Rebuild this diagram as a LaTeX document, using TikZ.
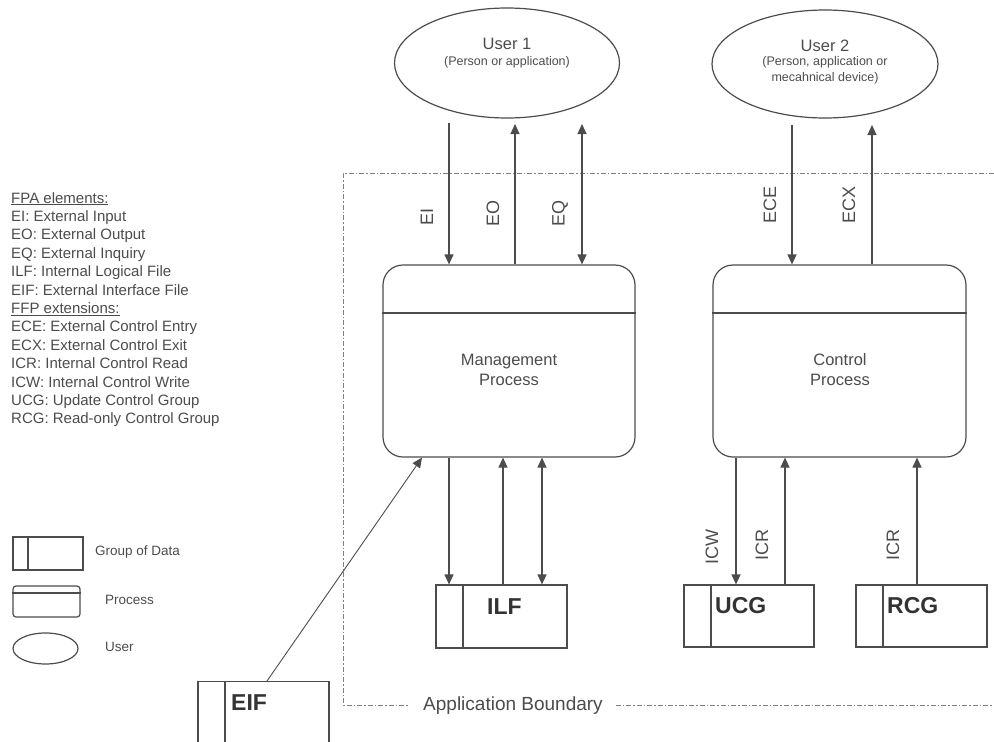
\documentclass[tikz,border=0pt]{standalone}
\usepackage{fontspec}
\setmainfont{Liberation Sans}
\usetikzlibrary{arrows.meta,shapes.geometric}
\definecolor{lc}{gray}{0.3}
\definecolor{tc}{gray}{0.3}
\begin{document}
\begin{tikzpicture}[x=1pt,y=1pt,
  lw/.style={line width=1.2pt},
  arr/.style={draw=lc,lw,-{Triangle[length=10pt,width=9pt]}},
  darr/.style={draw=lc,lw,{Triangle[length=10pt,width=9pt]}-{Triangle[length=10pt,width=9pt]}},
  user/.style={ellipse,draw=lc,lw,inner sep=0pt},
  proc/.style={rectangle,draw=lc,lw,rounded corners=20pt,minimum width=252pt,minimum height=192pt,inner sep=0pt},
  grp/.style={rectangle,draw=lc,lw,minimum width=131pt,minimum height=63pt,inner sep=0pt},
  flab/.style={text=tc,font=\fontsize{18}{18}\selectfont,rotate=90,inner sep=0pt},
  ptxt/.style={text=tc,font=\fontsize{16.5}{20}\selectfont,align=center,inner sep=0pt},
  gtxt/.style={text=black!80,font=\bfseries\fontsize{23}{23}\selectfont,anchor=west,inner sep=0pt},
  ltxt/.style={text=tc,font=\fontsize{13.5}{14}\selectfont,anchor=west,inner sep=0pt},
  bnd/.style={draw=gray,line width=1pt,dash pattern=on 5pt off 2pt on 1.5pt off 2pt}]
\useasboundingbox (0,0) rectangle (994,-742);

% users
\node[user,minimum width=225pt,minimum height=110pt] (u1) at (507,-63) {};
\node[text=tc,font=\fontsize{16.5}{16}\selectfont,inner sep=0pt] (u1t) at (507,-44) {User 1};
\node[text=tc,font=\fontsize{12.5}{13}\selectfont,inner sep=0pt] (u1s) at (507,-62) {(Person or application)};
\node[user,minimum width=226pt,minimum height=108pt] (u2) at (825,-64) {};
\node[text=tc,font=\fontsize{16.5}{16}\selectfont,inner sep=0pt] (u2t) at (825,-46) {User 2};
\node[text=tc,font=\fontsize{12.5}{16}\selectfont,align=center,inner sep=0pt] (u2s) at (825,-70) {(Person, application or\\mecahnical device)};

% boundary
\node[text=tc,font=\fontsize{19}{19}\selectfont,inner sep=0pt] (ab) at (513,-706) {Application Boundary};
\coordinate (bTR) at (994,-173);
\coordinate (bTL) at (343,-173);
\coordinate (bBL) at (343,-705);
\coordinate (bBR) at (994,-705);
\draw[bnd] (bTR) -- (bTL) -- (bBL) -- ([xshift=-14pt]ab.west |- bBL);
\draw[bnd] ([xshift=13pt]ab.east |- bBR) -- (bBR);

% processes
\node[proc] (mp) at (509,-361) {};
\node[proc,minimum width=253pt] (cp) at (839.5,-361) {};
\coordinate (sep) at (0,-313);
\draw[draw=lc,lw] (mp.west |- sep) -- (mp.east |- sep);
\draw[draw=lc,lw] (cp.west |- sep) -- (cp.east |- sep);
\node[ptxt] (mpt) at (509,-370) {Management\\Process};
\node[ptxt] (cpt) at (840,-370) {Control\\Process};

% data groups
\node[grp] (ilf) at (501.5,-616.5) {};
\draw[draw=lc,lw] (463,0 |- ilf.north) -- (463,0 |- ilf.south);
\node[gtxt] (ilft) at (487,-607) {ILF};
\node[grp,minimum width=130pt,minimum height=62pt] (ucg) at (749,-616) {};
\draw[draw=lc,lw] (711,0 |- ucg.north) -- (711,0 |- ucg.south);
\node[gtxt] (ucgt) at (715,-606) {UCG};
\node[grp,minimum height=62pt] (rcg) at (921.5,-616) {};
\draw[draw=lc,lw] (883,0 |- rcg.north) -- (883,0 |- rcg.south);
\node[gtxt] (rcgt) at (887,-606) {RCG};
\node[grp,minimum height=90pt,anchor=north] (eif) at (263.5,-681) {};
\draw[draw=lc,lw] (225,0 |- eif.north) -- (225,0 |- eif.south);
\node[gtxt] (eift) at (231,-703) {EIF};

% top flows
\coordinate (tEI) at (449,-123);
\coordinate (tEO) at (515,-124);
\coordinate (tEQ) at (582,-124);
\coordinate (tECE) at (792,-125);
\coordinate (tECX) at (872,-125);
\draw[arr] (tEI) -- (tEI |- mp.north);
\draw[arr] (tEO |- mp.north) -- (tEO);
\draw[darr] (tEQ) -- (tEQ |- mp.north);
\draw[arr] (tECE) -- (tECE |- cp.north);
\draw[arr] (tECX |- cp.north) -- (tECX);
\node[flab] (lEI) at (427,-217) {EI};
\node[flab] (lEO) at (493,-213) {EO};
\node[flab] (lEQ) at (560,-213) {EQ};
\node[flab] (lECE) at (770,-205) {ECE};
\node[flab] (lECX) at (849,-205) {ECX};

% bottom flows
\coordinate (xA) at (449,0);
\coordinate (xB) at (503,0);
\coordinate (xC) at (542,0);
\coordinate (xD) at (736,0);
\coordinate (xE) at (785,0);
\coordinate (xF) at (917,0);
\coordinate (xG) at (422,0);
\draw[arr] (xA |- mp.south) -- (xA |- ilf.north);
\draw[arr] (xB |- ilf.north) -- (xB |- mp.south);
\draw[darr] (xC |- ilf.north) -- (xC |- mp.south);
\draw[arr] (xD |- cp.south) -- (xD |- ucg.north);
\draw[arr] (xE |- ucg.north) -- (xE |- cp.south);
\draw[arr] (xF |- rcg.north) -- (xF |- cp.south);
\draw[arr,line width=0.9pt] ([xshift=3.5pt]eif.north) -- (xG |- mp.south);
\node[flab] (lICW) at (712,-547) {ICW};
\node[flab] (lICR) at (762,-545) {ICR};
\node[flab] (lICR2) at (893,-545) {ICR};

% legend text
\node[text=tc,font=\fontsize{15}{18.4}\selectfont,align=left,anchor=north west,inner sep=0pt] (leg) at (11,-192) {%
\underline{FPA elements:}\\
EI: External Input\\
EO: External Output\\
EQ: External Inquiry\\
ILF: Internal Logical File\\
EIF: External Interface File\\
\underline{FFP extensions:}\\
ECE: External Control Entry\\
ECX: External Control Exit\\
ICR: Internal Control Read\\
ICW: Internal Control Write\\
UCG: Update Control Group\\
RCG: Read-only Control Group};

% legend symbols
\node[rectangle,draw=lc,lw,minimum width=70pt,minimum height=33pt,inner sep=0pt] (lgd) at (48,-553.5) {};
\draw[draw=lc,lw] (28,0 |- lgd.north) -- (28,0 |- lgd.south);
\node[ltxt] (lgdt) at (95,-552) {Group of Data};
\node[rectangle,draw=lc,lw,rounded corners=3pt,minimum width=67pt,minimum height=31pt,inner sep=0pt] (lgp) at (46.5,-601.5) {};
\draw[draw=lc,lw] (lgp.west |- 0,-593) -- (lgp.east |- 0,-593);
\node[ltxt] (lgpt) at (105,-600) {Process};
\node[user,minimum width=65pt,minimum height=31pt] (lgu) at (45.5,-648.5) {};
\node[ltxt] (lgut) at (105,-647) {User};
\end{tikzpicture}
\end{document}
